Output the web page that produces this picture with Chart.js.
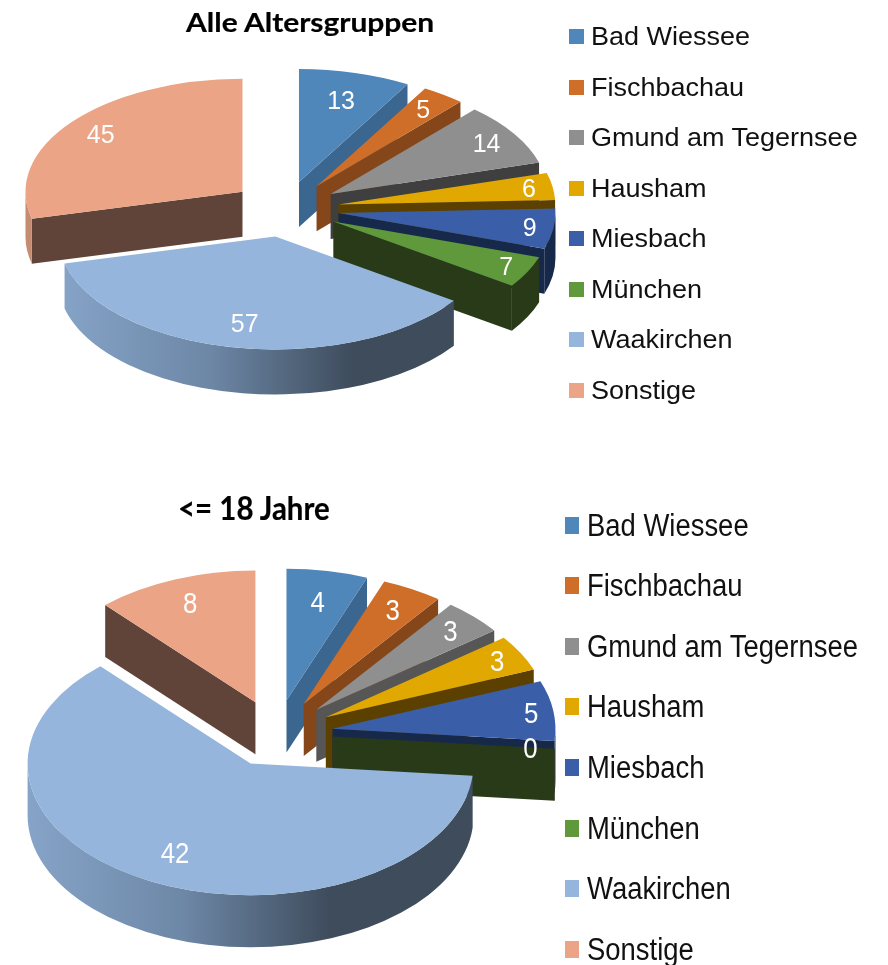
<!DOCTYPE html>
<html>
<head>
<meta charset="utf-8">
<script src="https://cdn.jsdelivr.net/npm/chart.js@4"></script>
<style>
  html, body { margin: 0; padding: 0; background: #fff; }
  #page { position: relative; width: 888px; height: 965px; overflow: hidden; font-family: "Liberation Sans", sans-serif; color: #111; }
  canvas { position: absolute; left: 0; }
  .title { position: absolute; font-family: Lato, sans-serif; font-weight: 700; white-space: nowrap; transform-origin: 0 50%; color: #000; -webkit-text-stroke: 0.2px #000; }
  .swatch { position: absolute; }
  .entry { position: absolute; white-space: nowrap; transform-origin: 0 50%; line-height: 1; }
</style>
</head>
<body>
<div id="page">
  <canvas id="allAges"></canvas>
  <canvas id="youth"></canvas>
</div>
<script>
const categories = ['Bad Wiessee', 'Fischbachau', 'Gmund am Tegernsee', 'Hausham', 'Miesbach', 'München', 'Waakirchen', 'Sonstige'];
const valuesAll = [13, 5, 14, 6, 9, 7, 57, 45];
const valuesYouth = [4, 3, 3, 3, 5, 0, 42, 8];
const faceColors = ['#4f87ba', '#cf6e28', '#8f8f8f', '#e0a800', '#3a5fa8', '#5f993b', '#95b5dc', '#eba485'];
const wallColors = ['#3a668f', '#85461a', '#3f3f3f', '#5c4000', '#17294b', '#293a18', '#46586e', '#60443a'];
const wallColorsYouth = ['#3a668f', '#85461a', '#565656', '#5c4000', '#17294b', '#293a18', '#46586e', '#60443a'];
const rimColors = ['#3a668f', '#85461a', '#3f3f3f', '#5c4000', '#17294b', '#293a18', null, '#c48d72'];
const labelRadiusAll = [0.75, 0.84, 0.85, 0.89, 0.89, 0.89, 0.78, 0.83];
const labelRadiusYouth = [0.76, 0.82, 0.85, 0.88, 0.9, 0.89, 0.76, 0.81];

// Tilted, exploded pie: the controller still works out every slice angle and the
// radius, this plugin only squashes them and adds the side walls.
const tiltedPie = {
  id: 'tiltedPie',
  beforeDatasetDraw(chart, args, opts) {
    const { ctx } = chart;
    const arcs = chart.getDatasetMeta(args.index).data;
    const order = arcs.map((arc, i) => i).sort((a, b) => {
      const mid = (arc) => Math.sin((arc.startAngle + arc.endAngle) / 2);
      return mid(arcs[a]) - mid(arcs[b]);
    });

    order.forEach((i) => {
      const arc = arcs[i];
      const rx = arc.outerRadius;
      const ry = rx * opts.squash;
      const half = (arc.startAngle + arc.endAngle) / 2;
      const cx = arc.x + Math.cos(half) * opts.explode;
      const cy = opts.centerY + Math.sin(half) * opts.explode * opts.squash;
      const d = opts.depth;

      // radial faces that look towards the viewer
      ctx.fillStyle = opts.walls[i];
      [[arc.endAngle, 1], [arc.startAngle, -1]].forEach(([a, side]) => {
        if (Math.cos(a) * side <= 0.001) return;
        const ex = cx + Math.cos(a) * rx;
        const ey = cy + Math.sin(a) * ry;
        ctx.beginPath();
        ctx.moveTo(cx, cy);
        ctx.lineTo(ex, ey);
        ctx.lineTo(ex, ey + d);
        ctx.lineTo(cx, cy + d);
        ctx.closePath();
        ctx.fill();
      });

      // outer rim, only the part on the front half of the ellipse
      const a0 = Math.max(arc.startAngle, 0);
      const a1 = Math.min(arc.endAngle, Math.PI);
      if (a1 > a0) {
        if (opts.rims[i]) {
          ctx.fillStyle = opts.rims[i];
        } else {
          const grad = ctx.createLinearGradient(cx - rx, 0, cx + rx, 0);
          grad.addColorStop(0, '#86a4c8');
          grad.addColorStop(0.35, '#6d87a6');
          grad.addColorStop(0.68, '#3e4c5c');
          grad.addColorStop(1, '#3e4c5c');
          ctx.fillStyle = grad;
        }
        ctx.beginPath();
        ctx.ellipse(cx, cy, rx, ry, 0, a0, a1);
        ctx.ellipse(cx, cy + d, rx, ry, 0, a1, a0, true);
        ctx.closePath();
        ctx.fill();
      }

      // top face, drawn by the arc element itself
      ctx.save();
      ctx.translate(cx, cy);
      ctx.scale(1, opts.squash);
      ctx.translate(-arc.x, -arc.y);
      arc.draw(ctx);
      ctx.restore();
    });

    // value labels
    ctx.fillStyle = '#fff';
    ctx.textAlign = 'center';
    ctx.textBaseline = 'middle';
    ctx.font = opts.labelFont;
    arcs.forEach((arc, i) => {
      const half = (arc.startAngle + arc.endAngle) / 2;
      const t = opts.labelRadius[i] * arc.outerRadius;
      const x = arc.x + Math.cos(half) * (opts.explode + t);
      const y = opts.centerY + Math.sin(half) * (opts.explode + t) * opts.squash + 2;
      ctx.save();
      ctx.translate(x, y);
      ctx.scale(opts.labelStretch, 1);
      ctx.fillText(String(chart.data.datasets[args.index].data[i]), 0, 0);
      ctx.restore();
    });
    return false;
  },
};

const drawPie = (id, top, values, padding, pieOpts) => {
  const el = document.getElementById(id);
  el.style.top = top + 'px';
  return new Chart(el, {
    type: 'pie',
    data: {
      labels: categories,
      datasets: [{ data: values, backgroundColor: faceColors, borderWidth: 0 }],
    },
    options: {
      responsive: false,
      animation: false,
      events: [],
      layout: { padding },
      plugins: { legend: { display: false }, tooltip: { enabled: false }, tiltedPie: pieOpts },
    },
    plugins: [tiltedPie],
  });
};

const sizeCanvas = (id, h) => {
  const el = document.getElementById(id);
  el.width = 888;
  el.height = h;
  el.style.width = '888px';
  el.style.height = h + 'px';
};

sizeCanvas('allAges', 480);
sizeCanvas('youth', 485);

drawPie('allAges', 0, valuesAll, { left: 68, right: 386, top: 0, bottom: 46 }, {
  centerY: 209, squash: 0.52, explode: 54, depth: 45,
  walls: wallColors, rims: rimColors, labelRadius: labelRadiusAll,
  labelFont: '25px "Liberation Sans"', labelStretch: 1,
});
drawPie('youth', 480, valuesYouth, { left: 53, right: 389, top: 0, bottom: 39 }, {
  centerY: 253.5, squash: 0.59, explode: 57, depth: 52,
  walls: wallColorsYouth, rims: rimColors, labelRadius: labelRadiusYouth,
  labelFont: '30px "Liberation Sans"', labelStretch: 0.86,
});

// ---- titles and legends ----
const page = document.getElementById('page');
const addTitle = (text, x, y, size, stretch) => {
  const t = document.createElement('div');
  t.className = 'title';
  t.textContent = text;
  t.style.cssText = `left:${x}px;top:${y}px;font-size:${size}px;transform:scaleX(${stretch})`;
  page.appendChild(t);
};
addTitle('Alle Altersgruppen', 186, 5, 27, 1.11);
addTitle('<= 18 Jahre', 178, 488, 32, 0.92);

const addLegend = (boxX, boxW, boxH, textX, firstY, step, size, stretch) => {
  categories.forEach((name, i) => {
    const y = firstY + i * step;
    const box = document.createElement('div');
    box.className = 'swatch';
    box.style.cssText = `left:${boxX}px;top:${y - boxH / 2}px;width:${boxW}px;height:${boxH}px;background:${faceColors[i]}`;
    page.appendChild(box);
    const label = document.createElement('div');
    label.className = 'entry';
    label.textContent = name;
    label.style.cssText = `left:${textX}px;top:${y - size / 2}px;font-size:${size}px;transform:scaleX(${stretch})`;
    page.appendChild(label);
  });
};
addLegend(569, 15, 15, 591, 36.5, 50.5, 25, 1.08);
addLegend(565, 14, 17, 587, 525, 60.6, 31, 0.885);
</script>
</body>
</html>
